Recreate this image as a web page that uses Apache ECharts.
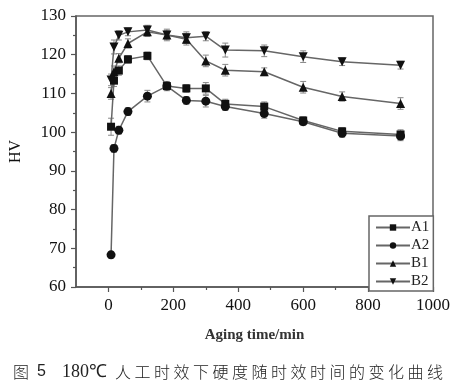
<!DOCTYPE html>
<html>
<head>
<meta charset="utf-8">
<script src="https://cdn.jsdelivr.net/npm/echarts@6/dist/echarts.min.js"></script>
<style>html,body{margin:0;padding:0;background:#fff}#c{width:457px;height:386px}</style>
</head>
<body>
<div id="c"></div>
<script>
var times = [8, 17, 32, 60, 120, 180, 240, 300, 360, 480, 600, 720, 900];
var A1 = [101.4, 113.3, 115.9, 118.8, 119.7, 111.9, 111.3, 111.3, 107.3, 106.6, 103.0, 100.2, 99.4];
var A2 = [68.3, 95.8, 100.5, 105.3, 109.3, 111.9, 108.2, 108.0, 106.6, 104.8, 102.7, 99.7, 99.0];
var B1 = [110.0, 115.6, 119.1, 122.9, 125.9, 125.1, 124.0, 118.4, 116.0, 115.6, 111.6, 109.2, 107.4];
var B2 = [113.5, 122.0, 125.0, 125.9, 126.4, 125.1, 124.4, 124.8, 121.2, 121.0, 119.5, 118.2, 117.3];
var errA1 = [2.2, 1.5, 1.2, 1.0, 1.0, 1.2, 1.0, 1.5, 1.2, 1.2, 1.0, 1.0, 1.2];
var errA2 = [0.8, 1.0, 1.0, 1.0, 1.5, 1.0, 1.0, 1.5, 1.0, 1.2, 1.0, 1.0, 1.2];
var errB1 = [1.5, 1.5, 1.2, 1.2, 1.2, 1.2, 1.5, 1.5, 1.5, 1.0, 1.5, 1.2, 1.5];
var errB2 = [1.5, 1.8, 1.2, 1.0, 1.2, 1.5, 1.5, 1.2, 1.8, 1.5, 1.5, 1.0, 1.0];
var seriesNames = ['A1', 'A2', 'B1', 'B2'];
var xTickLabels = [0, 200, 400, 600, 800, 1000];
var xMinorTicks = [100, 300, 500, 700, 900];
var yMinorTicks = [65, 75, 85, 95, 105, 115, 125];
var xTitle = 'Aging time/min';
var yTitle = 'HV';
var caption = ['图', '5', '180℃', '人','工','时','效','下','硬','度','随','时','效','时','间','的','变','化','曲','线'];

function pairs(ys){ return ys.map(function(v,i){ return [times[i], v]; }); }
function errs(ys, es){ return ys.map(function(v,i){ return [times[i], v - es[i], v + es[i]]; }); }

var chart = echarts.init(document.getElementById('c'), null, {renderer:'canvas'});
var serif = 'Liberation Serif';
var symbols = ['rect', 'circle', 'triangle', 'triangle'];
var rot = [0, 0, 0, 180];
var sizes = [8, 9, 9, 9];
var dataSets = [A1, A2, B1, B2];
var errSets = [errA1, errA2, errB1, errB2];

var series = [];
dataSets.forEach(function(d, k){
  series.push({
    type: 'custom',
    silent: true,
    z: 1,
    data: errs(d, errSets[k]),
    renderItem: function(params, api){
      var x = api.value(0);
      var top = api.coord([x, api.value(2)]);
      var bot = api.coord([x, api.value(1)]);
      var w = 3;
      var st = {stroke: '#888', lineWidth: 1};
      return {type: 'group', children: [
        {type: 'line', shape: {x1: top[0], y1: top[1], x2: bot[0], y2: bot[1]}, style: st},
        {type: 'line', shape: {x1: top[0]-w, y1: top[1], x2: top[0]+w, y2: top[1]}, style: st},
        {type: 'line', shape: {x1: bot[0]-w, y1: bot[1], x2: bot[0]+w, y2: bot[1]}, style: st}
      ]};
    }
  });
});
dataSets.forEach(function(d, k){
  series.push({
    name: seriesNames[k],
    type: 'line',
    z: 3,
    data: pairs(d),
    symbol: symbols[k],
    symbolRotate: rot[k],
    symbolSize: sizes[k],
    showAllSymbol: true,
    lineStyle: {color: '#666', width: 1.5},
    itemStyle: {color: '#111'}
  });
});

var graphics = [];
var capX = [13, 37, 62];
caption.forEach(function(ch, i){
  var x;
  if (i < 3) x = capX[i];
  else x = 115 + (i - 3) * 19.5;
  graphics.push({
    type: 'text', left: x, top: (i === 2 ? 363 : 364),
    style: {text: ch, fontFamily: (i === 1 ? 'Liberation Sans' : (i === 2 ? serif : 'Noto Sans CJK SC')), fontSize: (i===2?18:16), fill: '#222', fontWeight: (i>=3||i===0)?'300':'normal'}
  });
});

chart.setOption({
  animation: false,
  backgroundColor: '#fff',
  grid: {left: 67, right: 24, top: 16, bottom: 99, show: true, borderColor: '#666', borderWidth: 1.5, containLabel: false},
  legend: {
    data: seriesNames,
    orient: 'vertical',
    left: 369, top: 216,
    width: 64,
    padding: [4, 4, 2, 6],
    itemGap: 3,
    itemWidth: 34, itemHeight: 8,
    borderColor: '#666', borderWidth: 1.5,
    backgroundColor: '#fff',
    textStyle: {fontFamily: serif, fontSize: 15, color: '#222', lineHeight: 14, padding: [0,0,0,-4]}
  },
  xAxis: [{
    type: 'value', min: -100, max: 1000,
    name: xTitle, nameLocation: 'middle', nameGap: 41,
    nameTextStyle: {fontFamily: serif, fontSize: 15, fontWeight: 'bold', color: '#333'},
    axisLine: {show: true, onZero: false, lineStyle: {color: '#555', width: 1.5}},
    axisTick: {show: true, length: 5, customValues: xTickLabels, lineStyle: {color: '#555', width: 1.2}},
    axisLabel: {customValues: xTickLabels, formatter: function(v){ return String(v); }, fontFamily: serif, fontSize: 17, color: '#111', margin: 10},
    splitLine: {show: false}
  }, {
    type: 'value', min: -100, max: 1000, position: 'bottom',
    axisLine: {show: false, onZero: false},
    axisTick: {show: true, length: 3, customValues: xMinorTicks, lineStyle: {color: '#555', width: 1.2}},
    axisLabel: {show: false},
    splitLine: {show: false}
  }],
  yAxis: [{
    type: 'value', min: 60, max: 130, interval: 10,
    name: yTitle, nameLocation: 'middle', nameGap: 52, nameRotate: 90,
    nameTextStyle: {fontFamily: serif, fontSize: 16, color: '#111'},
    axisLine: {show: true, onZero: false, lineStyle: {color: '#555', width: 1.5}},
    axisTick: {show: true, length: 5, lineStyle: {color: '#555', width: 1.2}},
    axisLabel: {fontFamily: serif, fontSize: 17, color: '#111', margin: 10},
    splitLine: {show: false}
  }, {
    type: 'value', min: 60, max: 130, position: 'left',
    axisLine: {show: false, onZero: false},
    axisTick: {show: true, length: 3, customValues: yMinorTicks, lineStyle: {color: '#555', width: 1.2}},
    axisLabel: {show: false},
    splitLine: {show: false}
  }],
  series: series,
  graphic: graphics
});
</script>
</body>
</html>
